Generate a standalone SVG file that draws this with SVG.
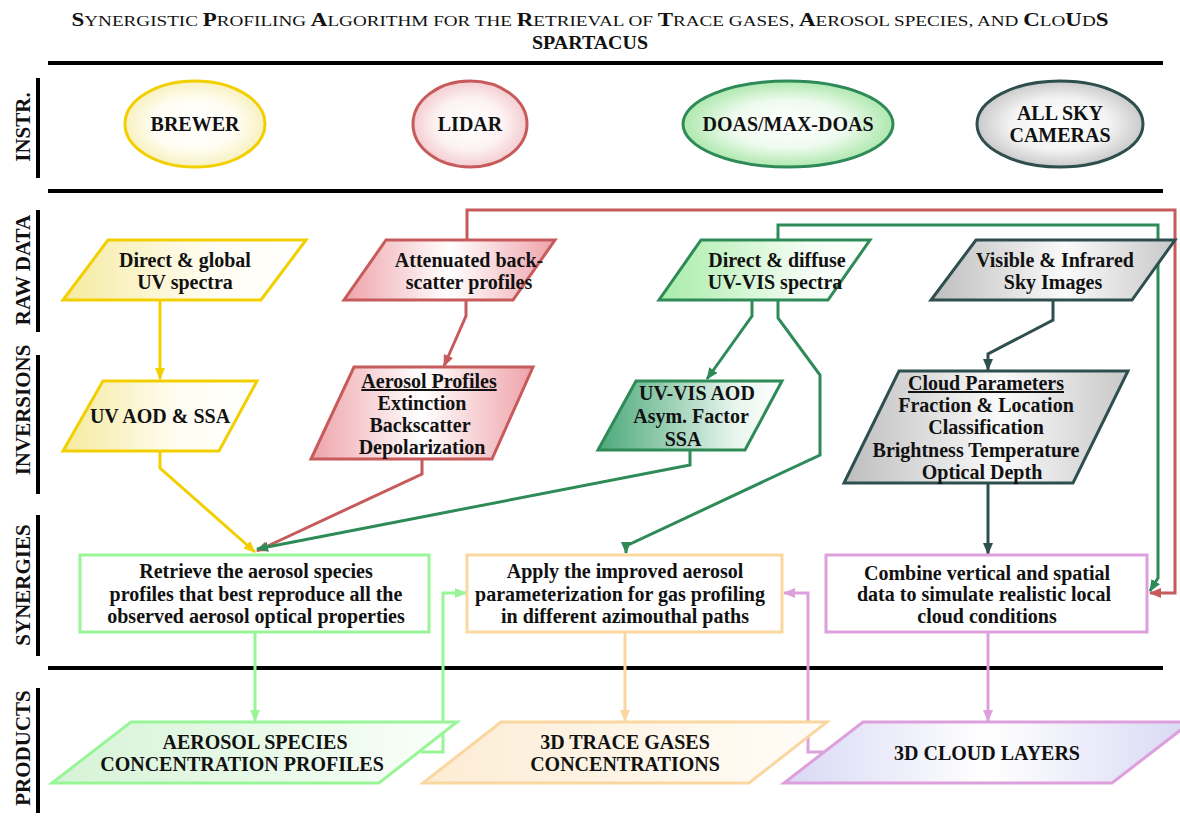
<svg xmlns="http://www.w3.org/2000/svg" width="1180" height="821" viewBox="0 0 1180 821">
<style>
text{font-family:"Liberation Serif","Times New Roman",serif;fill:#111;}
.t{font-size:20px;font-weight:bold;text-anchor:middle;}
.title{font-size:15px;}
.cap{font-size:18px;font-weight:bold;}
.sec{font-size:21px;font-weight:bold;text-anchor:middle;}
.bar{stroke:#000;stroke-width:4;}
.hl{stroke:#000;stroke-width:4;}
.n{stroke-width:3;}
.c{fill:none;stroke-width:3;stroke-linejoin:miter;}
</style>
<defs>
<marker id="aY" viewBox="0 0 12 10" refX="11" refY="5" markerWidth="12" markerHeight="10" markerUnits="userSpaceOnUse" orient="auto"><path d="M0,0 L12,5 L0,10 z" fill="#f2cf00"/></marker>
<marker id="aR" viewBox="0 0 12 10" refX="11" refY="5" markerWidth="12" markerHeight="10" markerUnits="userSpaceOnUse" orient="auto"><path d="M0,0 L12,5 L0,10 z" fill="#c75b5b"/></marker>
<marker id="aG" viewBox="0 0 12 10" refX="11" refY="5" markerWidth="12" markerHeight="10" markerUnits="userSpaceOnUse" orient="auto"><path d="M0,0 L12,5 L0,10 z" fill="#2e8b57"/></marker>
<marker id="aS" viewBox="0 0 12 10" refX="11" refY="5" markerWidth="12" markerHeight="10" markerUnits="userSpaceOnUse" orient="auto"><path d="M0,0 L12,5 L0,10 z" fill="#2f4f4f"/></marker>
<marker id="aP" viewBox="0 0 12 10" refX="11" refY="5" markerWidth="12" markerHeight="10" markerUnits="userSpaceOnUse" orient="auto"><path d="M0,0 L12,5 L0,10 z" fill="#98f598"/></marker>
<marker id="aO" viewBox="0 0 12 10" refX="11" refY="5" markerWidth="12" markerHeight="10" markerUnits="userSpaceOnUse" orient="auto"><path d="M0,0 L12,5 L0,10 z" fill="#fad7a0"/></marker>
<marker id="aM" viewBox="0 0 12 10" refX="11" refY="5" markerWidth="12" markerHeight="10" markerUnits="userSpaceOnUse" orient="auto"><path d="M0,0 L12,5 L0,10 z" fill="#dda0dd"/></marker>
<radialGradient id="eY"><stop offset="0" stop-color="#fff"/><stop offset="0.6" stop-color="#fffdf2"/><stop offset="1" stop-color="#f8f1c0"/></radialGradient>
<radialGradient id="eR"><stop offset="0" stop-color="#fff"/><stop offset="0.6" stop-color="#fdf2f3"/><stop offset="1" stop-color="#f4cdd0"/></radialGradient>
<radialGradient id="eG"><stop offset="0" stop-color="#fff"/><stop offset="0.55" stop-color="#effbef"/><stop offset="1" stop-color="#aee8ae"/></radialGradient>
<radialGradient id="eS"><stop offset="0" stop-color="#fff"/><stop offset="0.6" stop-color="#f3f3f3"/><stop offset="1" stop-color="#cacaca"/></radialGradient>
<linearGradient id="gY" x1="0" x2="1" y1="0" y2="0"><stop offset="0" stop-color="#f5eaa0"/><stop offset="0.6" stop-color="#fffdf2"/><stop offset="1" stop-color="#fff"/></linearGradient>
<linearGradient id="gR" x1="0" x2="1" y1="0" y2="0"><stop offset="0" stop-color="#eea3aa"/><stop offset="0.5" stop-color="#fff"/><stop offset="1" stop-color="#eea3aa"/></linearGradient>
<linearGradient id="gG" x1="0" x2="1" y1="0" y2="0"><stop offset="0" stop-color="#a8eca8"/><stop offset="0.7" stop-color="#f4fdf4"/><stop offset="1" stop-color="#fff"/></linearGradient>
<linearGradient id="gG2" x1="0" x2="1" y1="0" y2="0"><stop offset="0" stop-color="#4aa878"/><stop offset="0.75" stop-color="#e8f5ee"/><stop offset="1" stop-color="#fff"/></linearGradient>
<linearGradient id="gS" x1="0" x2="1" y1="0" y2="0"><stop offset="0" stop-color="#bdbdbd"/><stop offset="0.55" stop-color="#fafafa"/><stop offset="1" stop-color="#c8c8c8"/></linearGradient>
<linearGradient id="pG" x1="0" x2="1" y1="0" y2="0"><stop offset="0" stop-color="#d6f3d6"/><stop offset="1" stop-color="#fafffa"/></linearGradient>
<linearGradient id="pO" x1="0" x2="1" y1="0" y2="0"><stop offset="0" stop-color="#fcecd4"/><stop offset="1" stop-color="#fffdf8"/></linearGradient>
<linearGradient id="pM" x1="0" x2="1" y1="0" y2="0"><stop offset="0" stop-color="#d8d8f5"/><stop offset="0.5" stop-color="#fff"/><stop offset="1" stop-color="#d8d8f5"/></linearGradient>
</defs>

<g id="title">
<text x="590" y="26" text-anchor="middle" class="title" textLength="1037" lengthAdjust="spacingAndGlyphs"><tspan class="cap">S</tspan>YNERGISTIC <tspan class="cap">P</tspan>ROFILING <tspan class="cap">A</tspan>LGORITHM FOR THE <tspan class="cap">R</tspan>ETRIEVAL OF <tspan class="cap">T</tspan>RACE GASES, <tspan class="cap">A</tspan>EROSOL SPECIES, AND <tspan class="cap">C</tspan>LO<tspan class="cap">U</tspan>D<tspan class="cap">S</tspan></text>
<text x="590" y="49" text-anchor="middle" style="font-size:18px;font-weight:bold" textLength="116" lengthAdjust="spacingAndGlyphs">SPARTACUS</text>
</g>

<g id="grid">
<line class="hl" x1="48" y1="63" x2="1163" y2="63"/>
<line class="hl" x1="48" y1="191" x2="1163" y2="191"/>
<line class="hl" x1="48" y1="668" x2="1163" y2="668"/>
<line class="bar" x1="38" y1="78" x2="38" y2="178"/>
<line class="bar" x1="38" y1="210" x2="38" y2="332"/>
<line class="bar" x1="38" y1="355" x2="38" y2="494"/>
<line class="bar" x1="38" y1="515" x2="38" y2="656"/>
<line class="bar" x1="38" y1="688" x2="38" y2="813"/>
<text class="sec" transform="translate(30,127) rotate(-90)">INSTR.</text>
<text class="sec" transform="translate(30,270) rotate(-90)">RAW DATA</text>
<text class="sec" transform="translate(30,410) rotate(-90)">INVERSIONS</text>
<text class="sec" transform="translate(30,585) rotate(-90)">SYNERGIES</text>
<text class="sec" transform="translate(30,748) rotate(-90)">PRODUCTS</text>
</g>

<g id="connectors">
<path class="c" stroke="#f2cf00" d="M160,300 V379" marker-end="url(#aY)"/>
<path class="c" stroke="#f2cf00" d="M160,452 V468 L255,552" marker-end="url(#aY)"/>
<path class="c" stroke="#c75b5b" d="M466,300 V316 L444,366" marker-end="url(#aR)"/>
<path class="c" stroke="#c75b5b" d="M422,459 V474 L257,551" marker-end="url(#aR)"/>
<path class="c" stroke="#c75b5b" d="M467,240 V210 H1175 V593 H1150" marker-end="url(#aR)"/>
<path class="c" stroke="#2e8b57" d="M752,300 V316 L707,379" marker-end="url(#aG)"/>
<path class="c" stroke="#2e8b57" d="M778,300 V318 L820,375 V455 L626,546 V553" marker-end="url(#aG)"/>
<path class="c" stroke="#2e8b57" d="M690,450 V465 L257,549" marker-end="url(#aG)"/>
<path class="c" stroke="#2e8b57" d="M778,240 V225 H1158 V578 L1150,591" marker-end="url(#aG)"/>
<path class="c" stroke="#2f4f4f" d="M1053,300 V320 L988,354 V370" marker-end="url(#aS)"/>
<path class="c" stroke="#2f4f4f" d="M988,483 V554" marker-end="url(#aS)"/>
<path class="c" stroke="#98f598" d="M255,633 V721" marker-end="url(#aP)"/>
<path class="c" stroke="#98f598" d="M421,752 H443 V593 H466" marker-end="url(#aP)"/>
<path class="c" stroke="#fad7a0" d="M625,632 V721" marker-end="url(#aO)"/>
<path class="c" stroke="#dda0dd" d="M988,632 V721" marker-end="url(#aM)"/>
<path class="c" stroke="#dda0dd" d="M824,752 H808 V593 H784" marker-end="url(#aM)"/>
</g>

<g id="brewer"><ellipse class="n" cx="195" cy="124" rx="70" ry="43" fill="url(#eY)" stroke="#f2cf00"/><text class="t" x="195" y="131">BREWER</text></g>
<g id="lidar"><ellipse class="n" cx="470" cy="124" rx="57" ry="43" fill="url(#eR)" stroke="#c75b5b"/><text class="t" x="470" y="131">LIDAR</text></g>
<g id="doas"><ellipse class="n" cx="788" cy="124" rx="105" ry="43" fill="url(#eG)" stroke="#2e8b57"/><text class="t" x="788" y="131">DOAS/MAX-DOAS</text></g>
<g id="allsky"><ellipse class="n" cx="1060" cy="124" rx="83" ry="43" fill="url(#eS)" stroke="#2f4f4f"/><text class="t" x="1060" y="120">ALL SKY</text><text class="t" x="1060" y="142">CAMERAS</text></g>

<g id="raw-uv"><polygon class="n" points="108,240 306,240 261,300 63,300" fill="url(#gY)" stroke="#f2cf00"/><text class="t" x="185" y="267">Direct &amp; global</text><text class="t" x="185" y="289">UV spectra</text></g>
<g id="raw-lidar"><polygon class="n" points="386,240 555,240 513,300 344,300" fill="url(#gR)" stroke="#c75b5b"/><text class="t" x="469" y="267">Attenuated back-</text><text class="t" x="469" y="289">scatter profiles</text></g>
<g id="raw-doas"><polygon class="n" points="701,240 870,240 828,300 659,300" fill="url(#gG)" stroke="#2e8b57"/><text class="t" x="777" y="267">Direct &amp; diffuse</text><text class="t" x="775" y="289">UV-VIS spectra</text></g>
<g id="raw-sky"><polygon class="n" points="976,240 1175,240 1132,300 931,300" fill="url(#gS)" stroke="#2f4f4f"/><text class="t" x="1055" y="267">Visible &amp; Infrared</text><text class="t" x="1053" y="289">Sky Images</text></g>

<g id="inv-uv"><polygon class="n" points="103,381 257,381 219,451 63,451" fill="url(#gY)" stroke="#f2cf00"/><text class="t" x="160" y="423">UV AOD &amp; SSA</text></g>
<g id="inv-lidar"><polygon class="n" points="354,367 533,367 492,459 311,459" fill="url(#gR)" stroke="#c75b5b"/><text class="t" x="429" y="388" text-decoration="underline">Aerosol Profiles</text><text class="t" x="422" y="410">Extinction</text><text class="t" x="420" y="432">Backscatter</text><text class="t" x="422" y="454">Depolarization</text></g>
<g id="inv-doas"><polygon class="n" points="636,381 782,381 745,450 598,450" fill="url(#gG2)" stroke="#2e8b57"/><text class="t" x="697" y="400">UV-VIS AOD</text><text class="t" x="691" y="423">Asym. Factor</text><text class="t" x="683" y="446">SSA</text></g>
<g id="inv-sky"><polygon class="n" points="899,371 1128,371 1073,483 844,483" fill="url(#gS)" stroke="#2f4f4f"/><text class="t" x="986" y="390" text-decoration="underline">Cloud Parameters</text><text class="t" x="986" y="412">Fraction &amp; Location</text><text class="t" x="986" y="434">Classification</text><text class="t" x="976" y="457">Brightness Temperature</text><text class="t" x="982" y="479">Optical Depth</text></g>

<g id="syn-aerosol"><rect class="n" x="80" y="555" width="349" height="77" fill="#fff" stroke="#98f598"/><text class="t" x="256" y="578">Retrieve the aerosol species</text><text class="t" x="256" y="601">profiles that best reproduce all the</text><text class="t" x="256" y="623">observed aerosol optical properties</text></g>
<g id="syn-gas"><rect class="n" x="467" y="555" width="315" height="77" fill="#fff" stroke="#fad7a0"/><text class="t" x="625" y="578">Apply the improved aerosol</text><text class="t" x="620" y="601">parameterization for gas profiling</text><text class="t" x="625" y="623">in different azimouthal paths</text></g>
<g id="syn-cloud"><rect class="n" x="826" y="555" width="321" height="77" fill="#fff" stroke="#dda0dd"/><text class="t" x="987" y="580">Combine vertical and spatial</text><text class="t" x="984" y="601">data to simulate realistic local</text><text class="t" x="987" y="623">cloud conditions</text></g>

<g id="prod-aerosol"><polygon class="n" points="131,722 457,722 379,783 52,783" fill="url(#pG)" stroke="#98f598"/><text class="t" x="255" y="749">AEROSOL SPECIES</text><text class="t" x="242" y="771">CONCENTRATION PROFILES</text></g>
<g id="prod-gas"><polygon class="n" points="501,722 827,722 749,783 423,783" fill="url(#pO)" stroke="#fad7a0"/><text class="t" x="625" y="749">3D TRACE GASES</text><text class="t" x="625" y="771">CONCENTRATIONS</text></g>
<g id="prod-cloud"><polygon class="n" points="863,722 1191,722 1112,783 784,783" fill="url(#pM)" stroke="#dda0dd"/><text class="t" x="987" y="760">3D CLOUD LAYERS</text></g>
</svg>
